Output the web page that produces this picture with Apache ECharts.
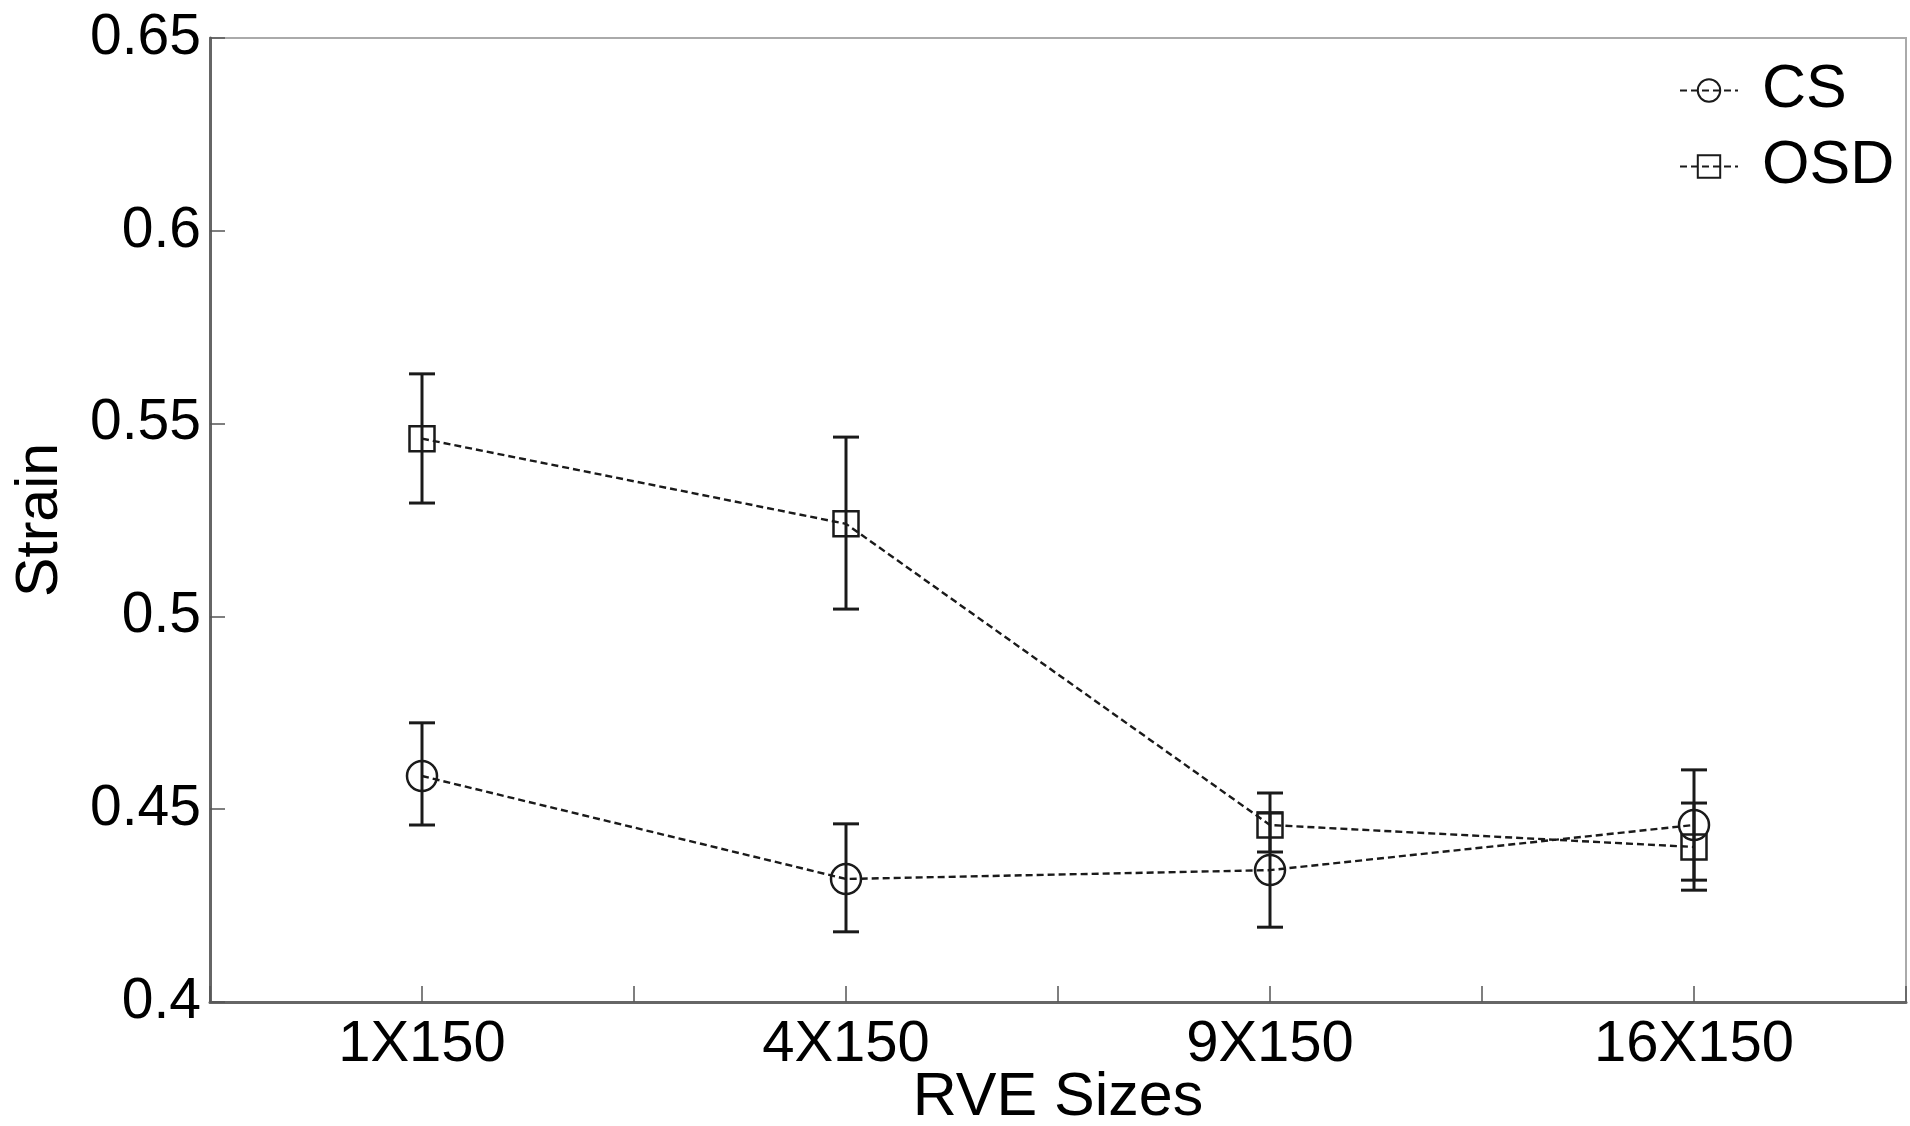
<!DOCTYPE html>
<html>
<head>
    <meta charset="utf-8">
    <title>RVE Sizes - Strain</title>
    <style type="text/css">
        html, body { margin: 0; padding: 0; background: #fff; }
        #main { width: 1910px; height: 1126px; }
    </style>
    <script src="https://cdn.jsdelivr.net/npm/echarts@6/dist/echarts.min.js"></script>
</head>
<body>
    <div id="main"></div>
    <script type="text/javascript">
// categories on the x axis (placed at 1, 2, 3, 4 on a value axis)
var categories = ['1X150', '4X150', '9X150', '16X150'];

// CS: mean and error bar bounds
var csMean = [0.4586, 0.4319, 0.4342, 0.4459];
var csLow  = [0.4459, 0.4182, 0.4194, 0.4316];
var csHigh = [0.4724, 0.4462, 0.4490, 0.4602];

// OSD: mean and error bar bounds
var osdMean = [0.5461, 0.5240, 0.4459, 0.4402];
var osdLow  = [0.5294, 0.5019, 0.4389, 0.4290];
var osdHigh = [0.5629, 0.5465, 0.4542, 0.4516];

var yTicks = [0.4, 0.45, 0.5, 0.55, 0.6, 0.65];

var FONT = 'Liberation Sans, Arial, sans-serif';

function points(mean) {
    return mean.map(function (v, i) { return [i + 1, v]; });
}
function bars(low, high) {
    return low.map(function (v, i) { return [i + 1, v, high[i]]; });
}

// draws a vertical error bar with caps
function renderErr(params, api) {
    var x = api.value(0);
    var lo = api.coord([x, api.value(1)]);
    var hi = api.coord([x, api.value(2)]);
    var w = 13;
    var st = { stroke: '#1a1a1a', lineWidth: 3 };
    return {
        type: 'group',
        children: [
            { type: 'line', shape: { x1: lo[0], y1: lo[1], x2: hi[0], y2: hi[1] }, style: st },
            { type: 'line', shape: { x1: hi[0] - w, y1: hi[1], x2: hi[0] + w, y2: hi[1] }, style: st },
            { type: 'line', shape: { x1: lo[0] - w, y1: lo[1], x2: lo[0] + w, y2: lo[1] }, style: st }
        ]
    };
}

var myChart = echarts.init(document.getElementById('main'));

var lineStyle = { color: '#1a1a1a', width: 2.4, type: [7, 4] };

var option = {
    animation: false,
    backgroundColor: '#fff',
    grid: {
        left: 210, right: 4, top: 38, bottom: 124,
        outerBoundsMode: 'none',
        containLabel: false,
        show: true, borderColor: '#aaa', borderWidth: 2
    },
    legend: {
        orient: 'vertical',
        left: 1679, top: 60,
        padding: 0,
        itemWidth: 58, itemHeight: 28, itemGap: 15,
        textStyle: { fontFamily: FONT, fontSize: 61, color: '#000', lineHeight: 58, padding: [0, 0, 0, 19] },
        data: ['CS', 'OSD']
    },
    xAxis: {
        type: 'value',
        min: 0.5, max: 4.5, interval: 0.5,
        name: 'RVE Sizes',
        nameLocation: 'middle',
        nameGap: 66,
        nameMoveOverlap: false,
        nameTextStyle: { fontFamily: FONT, fontSize: 61, color: '#000', verticalAlign: 'top' },
        axisLine: { lineStyle: { color: '#666', width: 3 } },
        axisTick: { inside: true, length: 16, lineStyle: { color: '#555', width: 1.5 } },
        splitLine: { show: false },
        axisLabel: {
            margin: 14,
            fontFamily: FONT, fontSize: 58, color: '#000',
            formatter: function (v) {
                return Number.isInteger(v) ? categories[v - 1] : '';
            }
        }
    },
    yAxis: {
        type: 'value',
        min: yTicks[0], max: yTicks[yTicks.length - 1], interval: 0.05,
        name: 'Strain',
        nameLocation: 'middle',
        nameGap: 140,
        nameMoveOverlap: false,
        nameTextStyle: { fontFamily: FONT, fontSize: 59, color: '#000' },
        axisLine: { lineStyle: { color: '#666', width: 3 } },
        axisTick: { inside: true, length: 15, lineStyle: { color: '#555', width: 1.5 } },
        splitLine: { show: false },
        axisLabel: {
            margin: 9,
            fontFamily: FONT, fontSize: 57, color: '#000',
            formatter: function (v) { return String(+v.toFixed(2)); }
        }
    },
    series: [
        {
            name: 'CS',
            type: 'line',
            data: points(csMean),
            symbol: 'circle',
            symbolSize: 30,
            lineStyle: lineStyle,
            itemStyle: { color: 'rgba(255,255,255,0)', borderColor: '#1a1a1a', borderWidth: 2.5 },
            z: 3
        },
        {
            name: 'OSD',
            type: 'line',
            data: points(osdMean),
            symbol: 'rect',
            symbolSize: 25,
            lineStyle: lineStyle,
            itemStyle: { color: 'rgba(255,255,255,0)', borderColor: '#1a1a1a', borderWidth: 2.5 },
            z: 3
        },
        {
            type: 'custom',
            renderItem: renderErr,
            data: bars(csLow, csHigh),
            encode: { x: 0, y: [1, 2] },
            z: 2
        },
        {
            type: 'custom',
            renderItem: renderErr,
            data: bars(osdLow, osdHigh),
            encode: { x: 0, y: [1, 2] },
            z: 2
        }
    ]
};

myChart.setOption(option);
    </script>
</body>
</html>
